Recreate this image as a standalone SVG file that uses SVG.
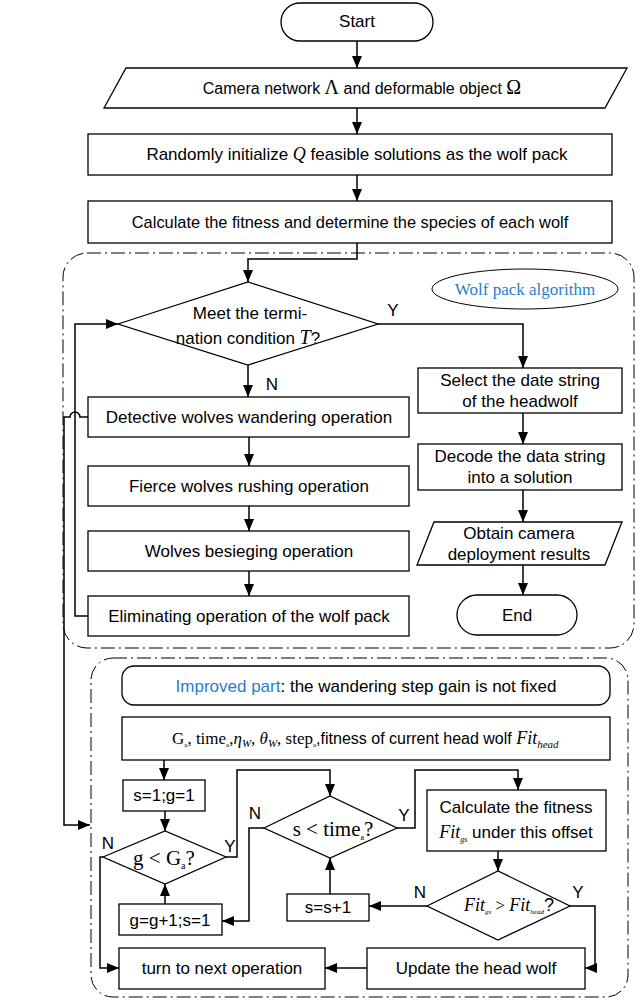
<svg xmlns="http://www.w3.org/2000/svg" width="642" height="1002" viewBox="0 0 642 1002">
<style>
.s{fill:#fff;stroke:#000;stroke-width:1.3}
.t{font-family:"Liberation Sans",Arial,sans-serif;font-size:17px;fill:#000;text-anchor:middle}
.m{font-family:"Liberation Serif","Times New Roman",serif}
.i{font-family:"Liberation Serif","Times New Roman",serif;font-style:italic}
.c{fill:none;stroke:#000;stroke-width:1.5}
.r{fill:none;stroke:#000;stroke-width:1;stroke-dasharray:14,4,2,4}
.b{fill:#1f7fcf}
</style>
<defs>
<marker id="a" markerWidth="12" markerHeight="10" refX="12" refY="5" orient="auto" markerUnits="userSpaceOnUse"><path d="M0,0 L12,5 L0,10 z" fill="#000"/></marker>
</defs>
<g id="regions">
<rect class="r" x="63" y="253" width="571" height="395" rx="24"/>
<rect class="r" x="91" y="658" width="537" height="339" rx="22"/>
</g>
<g id="start"><rect class="s" x="281" y="3" width="152" height="38" rx="19"/><text class="t" x="357" y="27">Start</text></g>
<g id="input"><polygon class="s" points="126,68 627,68 605,108 104,108"/><text class="t" x="362" y="94" style="font-size:16px">Camera network <tspan class="m" font-size="20">Λ</tspan> and deformable object <tspan class="m" font-size="20">Ω</tspan></text></g>
<g id="init"><rect class="s" x="88" y="134" width="524" height="41"/><text class="t" x="357" y="160">Randomly initialize <tspan class="i" font-size="18">Q</tspan> feasible solutions as the wolf pack</text></g>
<g id="fitness"><rect class="s" x="88" y="201" width="524" height="42"/><text class="t" x="350" y="228" style="font-size:16.4px">Calculate the fitness and determine the species of each wolf</text></g>
<g id="term"><polygon class="s" points="118,324 248,282 378,324 248,365"/><text class="t" x="250" y="319">Meet the termi-</text><text class="t" x="248" y="344">nation condition <tspan class="i" font-size="20">T</tspan>?</text></g>
<g id="label-wpa"><ellipse cx="525" cy="289" rx="93" ry="20" fill="#fff" stroke="#000" stroke-width="1"/><text class="m b" x="525" y="295" font-size="17" text-anchor="middle">Wolf pack algorithm</text></g>
<g id="detective"><rect class="s" x="88" y="397" width="321" height="40"/><text class="t" x="249" y="423">Detective wolves wandering operation</text></g>
<g id="fierce"><rect class="s" x="88" y="466" width="321" height="40"/><text class="t" x="249" y="492">Fierce wolves rushing operation</text></g>
<g id="besiege"><rect class="s" x="88" y="531" width="321" height="40"/><text class="t" x="249" y="557">Wolves besieging operation</text></g>
<g id="eliminate"><rect class="s" x="88" y="596" width="321" height="40"/><text class="t" x="249" y="622">Eliminating operation of the wolf pack</text></g>
<g id="select"><rect class="s" x="418" y="368" width="204" height="45"/><text class="t" x="520" y="386">Select the date string</text><text class="t" x="520" y="407">of the headwolf</text></g>
<g id="decode"><rect class="s" x="418" y="444" width="204" height="46"/><text class="t" x="520" y="462">Decode the data string</text><text class="t" x="520" y="483">into a solution</text></g>
<g id="obtain"><polygon class="s" points="434,522 622,522 605,565 417,565"/><text class="t" x="519" y="539">Obtain camera</text><text class="t" x="519" y="560">deployment results</text></g>
<g id="end"><rect class="s" x="457" y="595" width="120" height="40" rx="20"/><text class="t" x="517" y="621">End</text></g>
<g id="improved"><rect class="s" x="122" y="666" width="488" height="39" rx="12"/><text class="t" x="366" y="692"><tspan class="b">Improved part</tspan>: the wandering step gain is not fixed</text></g>
<g id="params"><rect class="s" x="122" y="717" width="488" height="43"/><text class="t" x="172" y="744" style="text-anchor:start;font-size:16px"><tspan class="m" font-size="17">G</tspan><tspan class="m" font-size="7" dy="3">a</tspan><tspan class="m" font-size="17" dy="-3">, time</tspan><tspan class="m" font-size="7" dy="3">a</tspan><tspan class="m" font-size="17" dy="-3">,</tspan><tspan class="i" font-size="17">η</tspan><tspan class="i" font-size="11" dy="3">W</tspan><tspan class="m" font-size="17" dy="-3">, </tspan><tspan class="i" font-size="17">θ</tspan><tspan class="i" font-size="11" dy="3">W</tspan><tspan class="m" font-size="17" dy="-3">, step</tspan><tspan class="m" font-size="7" dy="3">a</tspan><tspan dy="-3">,fitness of current head wolf  </tspan><tspan class="i" font-size="18">Fit</tspan><tspan class="i" font-size="11" dy="4">head</tspan></text></g>
<g id="init-sg"><rect class="s" x="123" y="780" width="82" height="31"/><text class="t" x="164" y="801">s=1;g=1</text></g>
<g id="cond-g"><polygon class="s" points="103,857 165,831 226,857 165,884"/><text class="t m" x="164" y="865" style="font-size:21px">g &lt; G<tspan font-size="10" dy="4">a</tspan><tspan dy="-4">?</tspan></text></g>
<g id="inc-g"><rect class="s" x="119" y="904" width="103" height="31"/><text class="t" x="170" y="926">g=g+1;s=1</text></g>
<g id="cond-s"><polygon class="s" points="264,828 330,796 397,828 330,858"/><text class="t m" x="333" y="836" style="font-size:21px">s &lt; time<tspan font-size="8" dy="4">a</tspan><tspan dy="-4">?</tspan></text></g>
<g id="inc-s"><rect class="s" x="287" y="894" width="82" height="27"/><text class="t" x="328" y="913">s=s+1</text></g>
<g id="calc"><rect class="s" x="427" y="790" width="179" height="61"/><text class="t" x="516" y="813">Calculate the fitness</text><text class="t" x="516" y="838"><tspan class="i" font-size="18">Fit</tspan><tspan class="i" font-size="8" dy="4">gs</tspan><tspan dy="-4"> under this offset</tspan></text></g>
<g id="cond-fit"><polygon class="s" points="427,906 498,871 570,906 498,940"/><text class="t" x="509" y="911"><tspan class="i" font-size="18">Fit</tspan><tspan class="i" font-size="7" dy="3">gs</tspan><tspan class="m" font-size="17" dy="-3">  &gt; </tspan><tspan class="i" font-size="18">Fit</tspan><tspan class="i" font-size="7" dy="3">head</tspan><tspan dy="-3" font-size="18">?</tspan></text></g>
<g id="next"><rect class="s" x="119" y="948" width="206" height="41"/><text class="t" x="222" y="974">turn to next operation</text></g>
<g id="update"><rect class="s" x="367" y="948" width="218" height="41"/><text class="t" x="476" y="974">Update the head wolf</text></g>
<g id="connectors">
<path class="c" d="M357,41 V68" marker-end="url(#a)"/>
<path class="c" d="M357,108 V134" marker-end="url(#a)"/>
<path class="c" d="M357,175 V201" marker-end="url(#a)"/>
<path class="c" d="M357,243 V259 H248 V282" marker-end="url(#a)"/>
<path class="c" d="M248,365 V397" marker-end="url(#a)"/>
<path class="c" d="M249,437 V466" marker-end="url(#a)"/>
<path class="c" d="M249,506 V531" marker-end="url(#a)"/>
<path class="c" d="M249,571 V596" marker-end="url(#a)"/>
<path class="c" d="M88,616 H75 V324 H118" marker-end="url(#a)"/>
<path class="c" d="M378,324 H523 V368" marker-end="url(#a)"/>
<path class="c" d="M523,413 V444" marker-end="url(#a)"/>
<path class="c" d="M523,490 V522" marker-end="url(#a)"/>
<path class="c" d="M523,565 V595" marker-end="url(#a)"/>
<path class="c" d="M88,417 H80 A5,5 0 0 0 70,417 H64 V825 H90" marker-end="url(#a)"/>
<path class="c" d="M164,760 V780" marker-end="url(#a)"/>
<path class="c" d="M165,811 V831" marker-end="url(#a)"/>
<path class="c" d="M165,904 V884" marker-end="url(#a)"/>
<path class="c" d="M103,857 H100 V968 H119" marker-end="url(#a)"/>
<path class="c" d="M226,857 H237 V770 H330 V796" marker-end="url(#a)"/>
<path class="c" d="M264,828 H249 V921 H222" marker-end="url(#a)"/>
<path class="c" d="M330,894 V858" marker-end="url(#a)"/>
<path class="c" d="M397,828 H415 V770 H518 V790" marker-end="url(#a)"/>
<path class="c" d="M498,851 V871" marker-end="url(#a)"/>
<path class="c" d="M427,906 H369" marker-end="url(#a)"/>
<path class="c" d="M570,906 H595 V968 H585" marker-end="url(#a)"/>
<path class="c" d="M367,968 H325" marker-end="url(#a)"/>
<g class="t">
<text x="393" y="316">Y</text>
<text x="272" y="390">N</text>
<text x="108" y="849">N</text>
<text x="230" y="852">Y</text>
<text x="255" y="819">N</text>
<text x="404" y="821">Y</text>
<text x="420" y="898">N</text>
<text x="578" y="898">Y</text>
</g>
</g>
</svg>
